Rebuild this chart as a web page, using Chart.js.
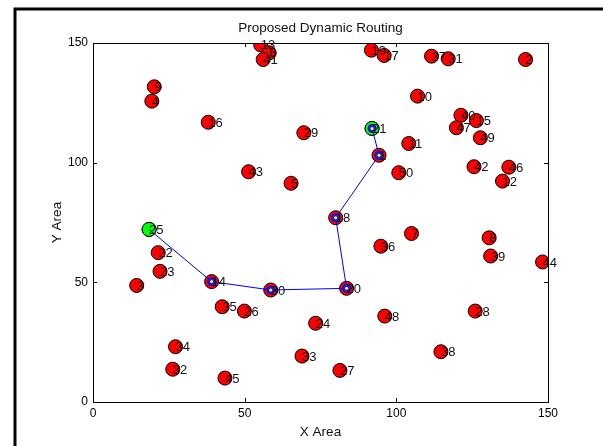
<!DOCTYPE html>
<html>
<head>
<meta charset="utf-8">
<script src="https://cdn.jsdelivr.net/npm/chart.js@4.4.1/dist/chart.umd.min.js"></script>
<style>
  html, body { margin: 0; padding: 0; background: #fff; }
  #plot { display: block; }
</style>
</head>
<body>
<canvas id="plot" width="603" height="446"></canvas>
<script>
// node numbers and their positions
const nodeIds = ['9','4','16','29','13','6','41','19','17','37','31','2','10','40','15','47','49','21','11','1',
  '43','5','25','22','23','50','42','46','12','18','7','36','8','39','44','3','14','30','35','26',
  '24','34','32','45','33','20','48','28','38','27'];
const nodeX = [20.2,19.4,38.0,69.5,55.3,58.1,56.1,91.8,96.0,111.6,117.1,142.6,107.0,121.3,126.4,119.8,127.7,92.0,104.1,94.3,
  51.3,65.3,18.5,21.5,22.1,100.8,125.6,137.1,135.0,80.0,105.0,94.9,130.6,131.1,148.2,14.4,39.1,58.6,42.6,49.9,
  73.4,27.2,26.3,43.5,68.9,83.6,96.2,126.0,114.7,81.4];
const nodeY = [131.7,125.7,116.9,112.5,149.2,145.9,143.1,147.0,144.8,144.5,143.4,143.1,127.8,119.8,117.6,114.6,110.4,114.3,108.0,103.1,
  96.2,91.4,72.1,62.4,54.6,95.8,98.3,98.1,92.3,77.0,70.4,65.1,68.6,61.0,58.5,48.7,50.3,46.8,39.8,38.0,
  32.9,23.1,13.7,10.0,19.2,47.5,35.9,38.0,21.0,13.2];

// route from source (25) to destination (21)
const routeIds = ['25','14','30','20','18','1','21'];
const endIds = ['25','21'];

const axisTicks = [0, 50, 100, 150];

const fontFam = '"Liberation Sans", Arial, Helvetica, sans-serif';

function pt(id) {
  const i = nodeIds.indexOf(id);
  return { x: nodeX[i], y: nodeY[i] };
}

const allPts = nodeIds.map(function(id, i){ return { x: nodeX[i], y: nodeY[i] }; });
const endPts = endIds.map(pt);
const routePts = routeIds.map(pt);
const innerPts = routeIds.slice(1).map(pt); // nodes with the blue ring

// marco, cajas, ticks y textos
const decoPlugin = {
  id: 'deco',
  beforeDraw(chart) {
    const c = chart.ctx;
    c.save();
    c.fillStyle = '#fff';
    c.fillRect(0, 0, chart.width, chart.height);
    c.strokeStyle = '#000';
    c.lineWidth = 3;
    c.beginPath();
    c.moveTo(15, chart.height);
    c.lineTo(15, 9);
    c.lineTo(chart.width, 9);
    c.stroke();
    c.restore();
  },
  afterDatasetsDraw(chart) {
    const c = chart.ctx;
    const a = chart.chartArea;
    const sx = chart.scales.x, sy = chart.scales.y;
    c.save();
    // box top/right
    c.strokeStyle = '#000';
    c.lineWidth = 1;
    c.beginPath();
    c.moveTo(a.left, a.top + 0.5);
    c.lineTo(a.right + 0.5, a.top + 0.5);
    c.lineTo(a.right + 0.5, a.bottom);
    c.stroke();
    // ticks inside
    c.beginPath();
    axisTicks.forEach(function(v){
      const px = Math.round(sx.getPixelForValue(v)) + 0.5;
      c.moveTo(px, a.bottom); c.lineTo(px, a.bottom - 4);
      c.moveTo(px, a.top); c.lineTo(px, a.top + 4);
      const py = Math.round(sy.getPixelForValue(v)) + 0.5;
      c.moveTo(a.left, py); c.lineTo(a.left + 4, py);
      c.moveTo(a.right, py); c.lineTo(a.right - 4, py);
    });
    c.stroke();
    // node labels
    c.fillStyle = '#111';
    c.font = '13px ' + fontFam;
    c.textAlign = 'left';
    c.textBaseline = 'middle';
    nodeIds.forEach(function(id, i){
      c.fillText(id, sx.getPixelForValue(nodeX[i]), sy.getPixelForValue(nodeY[i]) + 1);
    });
    // title and axis labels
    c.font = '13.5px ' + fontFam;
    c.textAlign = 'center';
    c.fillText('Proposed Dynamic Routing', (a.left + a.right) / 2, 28);
    c.fillText('X Area', (a.left + a.right) / 2, 432);
    c.translate(57, (a.top + a.bottom) / 2);
    c.rotate(-Math.PI / 2);
    c.fillText('Y Area', 0, 0);
    c.restore();
  }
};

var ctx = document.getElementById('plot').getContext('2d');
var plot = new Chart(ctx, {
  type: 'scatter',
  data: {
    datasets: [
      { // yellow centre
        data: innerPts, order: 1,
        pointRadius: 1.5, pointBackgroundColor: '#ffff00', pointBorderWidth: 0
      },
      { // blue ring
        data: innerPts, order: 2,
        pointRadius: 4, pointBackgroundColor: '#1f1fd0', pointBorderColor: '#0000ff', pointBorderWidth: 1
      },
      { // route
        data: routePts, order: 3, showLine: true,
        borderColor: '#0000ff', borderWidth: 1, pointRadius: 0, fill: false
      },
      { // source and destination
        data: endPts, order: 4,
        pointRadius: 7, pointBackgroundColor: '#00ff00', pointBorderColor: '#000', pointBorderWidth: 1
      },
      { // all nodes
        data: allPts, order: 5,
        pointRadius: 7, pointBackgroundColor: '#ff0000', pointBorderColor: '#000', pointBorderWidth: 1
      }
    ]
  },
  options: {
    responsive: false,
    animation: false,
    devicePixelRatio: 1,
    layout: { padding: { left: 0, top: 43, right: 55, bottom: 0 } },
    plugins: { legend: { display: false }, tooltip: { enabled: false } },
    scales: {
      x: {
        type: 'linear', min: 0, max: 150,
        afterBuildTicks: function(s){ s.ticks = axisTicks.map(function(v){ return { value: v }; }); },
        ticks: { color: '#000', font: { family: fontFam, size: 12 }, padding: 4, maxRotation: 0 },
        grid: { display: false, drawTicks: false },
        border: { display: true, color: '#000', width: 1 },
        afterFit: function(s){ s.height = 44; }
      },
      y: {
        type: 'linear', min: 0, max: 150,
        afterBuildTicks: function(s){ s.ticks = axisTicks.map(function(v){ return { value: v }; }); },
        ticks: { color: '#000', font: { family: fontFam, size: 12 }, padding: 5 },
        grid: { display: false, drawTicks: false },
        border: { display: true, color: '#000', width: 1 },
        afterFit: function(s){ s.width = 93; }
      }
    }
  },
  plugins: [decoPlugin]
});
</script>
</body>
</html>
